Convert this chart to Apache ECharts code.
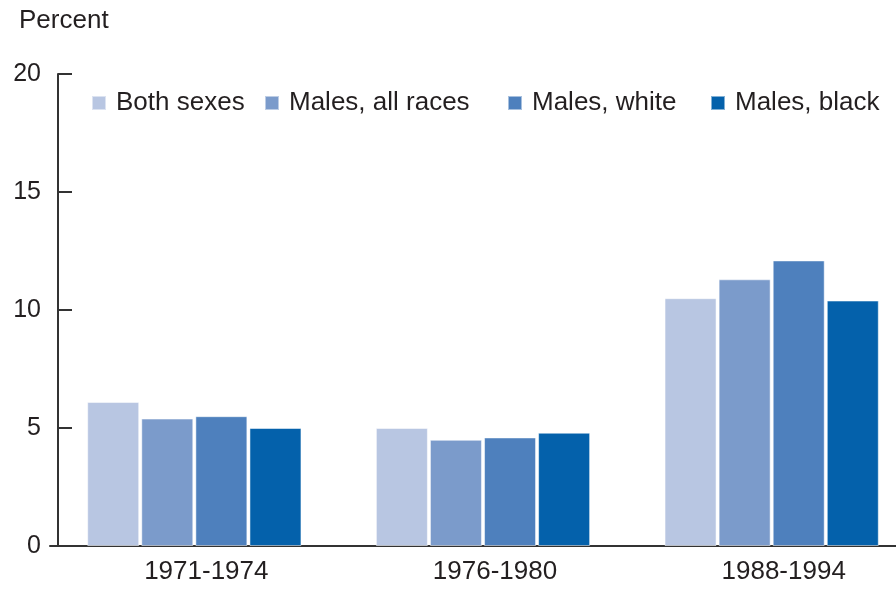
<!DOCTYPE html>
<html><head><meta charset="utf-8">
<script src="https://cdn.jsdelivr.net/npm/echarts@6/dist/echarts.min.js"></script>
<style>html,body{margin:0;padding:0;background:#fff}#c{width:896px;height:589px}</style>
</head><body><div id="c"></div>
<script>
const categories = ['1971-1974', '1976-1980', '1988-1994'];
const seriesNames = ['Both sexes', 'Males, all races', 'Males, white', 'Males, black'];
const bothSexes = [6.1, 5.0, 10.5];
const malesAll = [5.4, 4.5, 11.3];
const malesWhite = [5.5, 4.6, 12.1];
const malesBlack = [5.0, 4.8, 10.4];
const yTicks = [0, 5, 10, 15, 20];
const colors = ['#b8c6e2', '#7b9bcb', '#4e80bd', '#0461ab'];
const values = [bothSexes, malesAll, malesWhite, malesBlack];
const legendLefts = [91, 264, 507, 710];

const chart = echarts.init(document.getElementById('c'));
const font = 'Liberation Sans, Arial, sans-serif';
chart.setOption({
  animation: false,
  title: { text: 'Percent', left: 19, top: 8, padding: 0, textStyle: { fontFamily: font, fontSize: 26, fontWeight: 'normal', color: '#231f20' } },
  legend: seriesNames.map((n, i) => ({
    data: [n], left: legendLefts[i], top: 90, padding: 0, itemWidth: 14, itemHeight: 14, itemGap: 0,
    icon: 'rect', textStyle: { fontFamily: font, fontSize: 26, color: '#231f20', padding: [0, 0, 0, 5] }
  })),
  grid: { left: 50, right: -20, top: 74, bottom: 43, containLabel: false, outerBoundsMode: 'none' },
  xAxis: {
    type: 'category', data: categories,
    axisLine: { lineStyle: { color: '#333', width: 2 } },
    axisTick: { show: false },
    axisLabel: { fontFamily: font, fontSize: 26, color: '#231f20', margin: 13, padding: [0, 0, 0, 24] }
  },
  yAxis: {
    type: 'value', min: yTicks[0], max: yTicks[yTicks.length - 1], interval: 5, offset: -8,
    splitLine: { show: false },
    axisLine: { show: true, lineStyle: { color: '#333', width: 2 } },
    axisTick: { show: true, inside: true, length: 14, lineStyle: { color: '#333', width: 2 } },
    axisLabel: { fontFamily: font, fontSize: 25, color: '#231f20', margin: 17 }
  },
  series: seriesNames.map((n, i) => ({
    name: n, type: 'bar', data: values[i], barWidth: 52, barGap: '4%',
    itemStyle: { color: colors[i], borderColor: 'rgba(255,255,255,0.5)', borderWidth: 1 }
  }))
});
</script></body></html>
